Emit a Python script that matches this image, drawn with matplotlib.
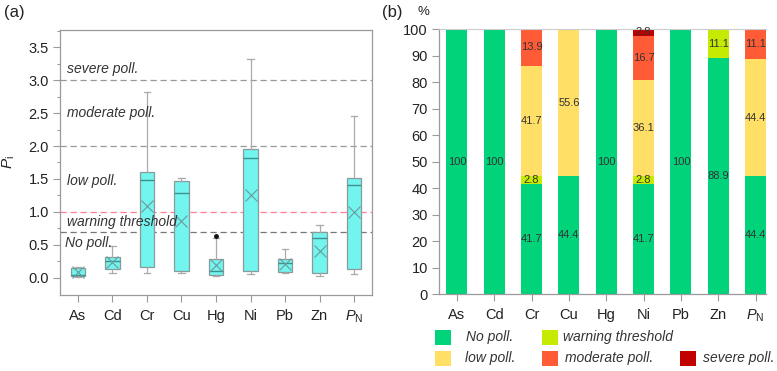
import matplotlib
matplotlib.use("Agg")
import matplotlib.pyplot as plt
from matplotlib.patches import Rectangle
import numpy as np

plt.rcParams['font.family'] = ['Liberation Sans', 'DejaVu Sans']
plt.rcParams['mathtext.fontset'] = 'custom'
plt.rcParams['mathtext.rm'] = 'Liberation Sans'
plt.rcParams['mathtext.it'] = 'Liberation Sans:italic'

# ---------------- data ----------------
elements = ['As', 'Cd', 'Cr', 'Cu', 'Hg', 'Ni', 'Pb', 'Zn', r'$P_{\mathrm{N}}$']

# box statistics for panel (a)
whislo = [0.02, 0.08, 0.07, 0.08, 0.03, 0.06, 0.07, 0.035, 0.06]
q1     = [0.03, 0.13, 0.16, 0.11, 0.05, 0.11, 0.09, 0.07, 0.13]
med    = [0.05, 0.26, 1.49, 1.29, 0.10, 1.82, 0.22, 0.61, 1.41]
q3     = [0.15, 0.32, 1.61, 1.47, 0.28, 1.95, 0.29, 0.69, 1.52]
whishi = [0.17, 0.49, 2.82, 1.52, 0.60, 3.32, 0.44, 0.80, 2.46]
means  = [0.09, 0.24, 1.09, 0.86, 0.19, 1.26, 0.21, 0.41, 1.00]
fliers = [[], [], [], [], [0.63], [], [], [], []]

# percentage composition for panel (b)
no_poll   = [100, 100, 41.7, 44.4, 100, 41.7, 100, 88.9, 44.4]
warning   = [0, 0, 2.8, 0, 0, 2.8, 0, 11.1, 0]
low_poll  = [0, 0, 41.7, 55.6, 0, 36.1, 0, 0, 44.4]
moderate  = [0, 0, 13.9, 0, 0, 16.7, 0, 0, 11.1]
severe    = [0, 0, 0, 0, 0, 2.8, 0, 0, 0]

class_names = ['No poll.', 'warning threshold', 'low poll.', 'moderate poll.', 'severe poll.']
class_colors = ['#00d37a', '#c6eb00', '#ffdf66', '#ff5b36', '#c30000']

thresholds = [0.7, 1.0, 2.0, 3.0]
zone_labels = ['No poll.', 'warning threshold', 'low poll.', 'moderate poll.', 'severe poll.']
zone_label_y = [0.53, 0.85, 1.47, 2.50, 3.17]

# ---------------- figure ----------------
fig = plt.figure(figsize=(7.77, 3.71), dpi=100)
axA = fig.add_axes([0.0772, 0.2049, 0.4016, 0.7142])
axB = fig.add_axes([0.5650, 0.2075, 0.4208, 0.7143])

spine_c = '#9a9a9a'
txt_c = '#222222'
tick_fs = 10.5

# ---- panel (a) ----
x = np.arange(len(elements))
stats = []
for i in range(len(elements)):
    stats.append(dict(whislo=whislo[i], q1=q1[i], med=med[i], q3=q3[i],
                      whishi=whishi[i], mean=means[i], fliers=fliers[i]))

axA.bxp(stats, positions=x, widths=0.43, patch_artist=True, showmeans=True,
        boxprops=dict(facecolor='#72f4ef', edgecolor='#8a9a9a', linewidth=0.9),
        medianprops=dict(color='#3f8f8c', linewidth=1.0),
        whiskerprops=dict(color='#aaaaaa', linewidth=0.9),
        capprops=dict(color='#aaaaaa', linewidth=0.9),
        capwidths=0.18,
        meanprops=dict(marker='x', markeredgecolor='#6a9a9a', markersize=8,
                       markeredgewidth=0.8, linestyle='none'),
        flierprops=dict(marker='o', markerfacecolor='#111111', markeredgecolor='#111111',
                        markersize=2.5))

line_styles = {0.7: '#777777', 1.0: '#ff7f92', 2.0: '#999999', 3.0: '#999999'}
for t in thresholds:
    axA.axhline(t, color=line_styles[t], linestyle=(0, (5, 3)), linewidth=0.9, zorder=0.5)

for lab, yy in zip(zone_labels, zone_label_y):
    axA.text(-0.33 if lab != 'No poll.' else -0.37, yy, lab, style='italic',
             fontsize=10, color='#333333', va='center', ha='left')

axA.set_xlim(-0.52, 8.52)
axA.set_ylim(-0.26, 3.76)
axA.set_xticks(x)
axA.set_xticklabels(elements)
axA.set_yticks(np.arange(0, 3.51, 0.5))
axA.set_yticklabels([f'{v:.1f}' for v in np.arange(0, 3.51, 0.5)])
axA.set_yticks(np.arange(0.25, 3.76, 0.5), minor=True)
axA.tick_params(axis='both', which='major', direction='out', length=5, width=0.8,
                color=spine_c, labelsize=tick_fs, labelcolor=txt_c, pad=3)
axA.tick_params(axis='x', pad=5)
axA.tick_params(axis='y', which='minor', direction='out', length=2.5, width=0.8, color=spine_c)
for s in axA.spines.values():
    s.set_color(spine_c)
    s.set_linewidth(0.9)
axA.set_ylabel(r'$P_{\mathrm{i}}$', fontsize=11, color=txt_c, labelpad=8)

# ---- panel (b) ----
layers = [no_poll, warning, low_poll, moderate, severe]
bottom = np.zeros(len(elements))
for vals, col in zip(layers, class_colors):
    vals = np.array(vals, dtype=float)
    axB.bar(x, vals, bottom=bottom, width=0.56, color=col, edgecolor='none', zorder=2)
    for xi, v, b in zip(x, vals, bottom):
        if v > 0:
            axB.text(xi, b + v / 2, f'{v:g}', ha='center', va='center',
                     fontsize=8, color='#333333', zorder=3)
    bottom += vals

axB.set_xlim(-0.48, 8.28)
axB.set_ylim(0, 100)
axB.set_xticks(x)
axB.set_xticklabels(elements)
axB.set_yticks(np.arange(0, 101, 10))
axB.tick_params(axis='both', which='major', direction='out', length=5, width=0.8,
                color=spine_c, labelsize=tick_fs, labelcolor=txt_c, pad=3)
axB.tick_params(axis='x', pad=5)
axB.spines['right'].set_visible(False)
axB.spines['top'].set_color('#cccccc')
axB.spines['top'].set_linewidth(0.8)
axB.spines['left'].set_color(spine_c)
axB.spines['bottom'].set_color(spine_c)
axB.spines['left'].set_linewidth(0.9)
axB.spines['bottom'].set_linewidth(0.9)

# panel labels
fig.text(4 / 777, 1 - 13 / 371, '(a)', fontsize=12, color=txt_c, va='center', ha='left')
fig.text(382 / 777, 1 - 13 / 371, '(b)', fontsize=12, color=txt_c, va='center', ha='left')
fig.text(423 / 777, 1 - 12 / 371, '%', fontsize=9.5, color=txt_c, va='center', ha='center')

# legend (manual layout)
W, H = 777.0, 371.0
leg_items = [
    (0, 435, 337.5, 31), (1, 542, 337.5, 21),
    (2, 435, 358.0, 30), (3, 542, 358.0, 23), (4, 680, 358.0, 23),
]
for idx, px, py, off in leg_items:
    fig.add_artist(Rectangle((px / W, 1 - (py + 7.5) / H), 16 / W, 15 / H,
                             transform=fig.transFigure, facecolor=class_colors[idx],
                             edgecolor='none'))
    fig.text((px + off) / W, 1 - py / H, class_names[idx], style='italic',
             fontsize=10, color='#333333', va='center', ha='left')

fig.savefig('out.png', dpi=100)
